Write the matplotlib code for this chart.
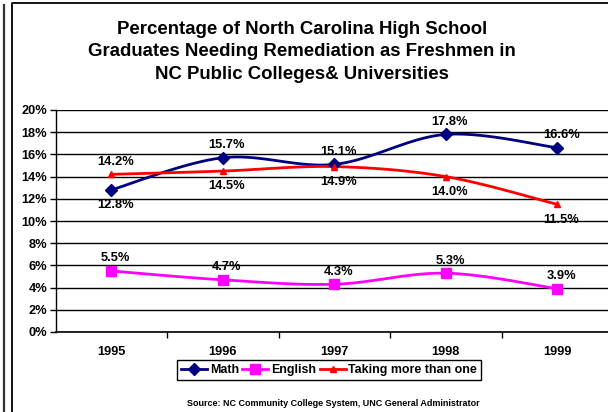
import numpy as np
import matplotlib
matplotlib.use("Agg")
import matplotlib.pyplot as plt
from matplotlib.lines import Line2D

years = ["1995", "1996", "1997", "1998", "1999"]
math_vals = [12.8, 15.7, 15.1, 17.8, 16.6]
english_vals = [5.5, 4.7, 4.3, 5.3, 3.9]
multi_vals = [14.2, 14.5, 14.9, 14.0, 11.5]
yticks = [0, 2, 4, 6, 8, 10, 12, 14, 16, 18, 20]

plt.rcParams['font.family'] = ['Liberation Sans', 'DejaVu Sans']
plt.rcParams['font.weight'] = 'bold'

W, H = 608, 412
fig = plt.figure(figsize=(W / 100, H / 100), dpi=100)
ax = fig.add_axes([55.5 / W, (H - 332) / H, 557.5 / W, 222 / H])


def smooth(x, y, n=30):
    # Bezier smoothing (Catmull-Rom style, as spreadsheet "smoothed line")
    x = np.asarray(x, float)
    y = np.asarray(y, float)
    px = np.concatenate([[x[0]], x, [x[-1]]])
    py = np.concatenate([[y[0]], y, [y[-1]]])
    xs, ys = [], []
    t = np.linspace(0, 1, n)
    for i in range(1, len(px) - 2):
        p0 = np.array([px[i], py[i]])
        p3 = np.array([px[i + 1], py[i + 1]])
        p1 = p0 + (np.array([px[i + 1], py[i + 1]]) - np.array([px[i - 1], py[i - 1]])) / 6
        p2 = p3 - (np.array([px[i + 2], py[i + 2]]) - np.array([px[i], py[i]])) / 6
        b = ((1 - t) ** 3)[:, None] * p0 + (3 * (1 - t) ** 2 * t)[:, None] * p1 \
            + (3 * (1 - t) * t ** 2)[:, None] * p2 + (t ** 3)[:, None] * p3
        xs.extend(b[:, 0])
        ys.extend(b[:, 1])
    return np.array(xs), np.array(ys)


xi = np.arange(len(years))
series = [
    ("Math", math_vals, "#000080", "D", 6),
    ("English", english_vals, "#FF00FF", "s", 7),
    ("Taking more than one", multi_vals, "#FF0000", "^", 4.5),
]
handles = []
for name, vals, col, mk, ms in series:
    sx, sy = smooth(xi, vals)
    ax.plot(sx, sy, color=col, lw=2, zorder=3, solid_capstyle='round')
    ax.plot(xi, vals, linestyle='none', marker=mk, ms=ms, color=col, zorder=4)
    handles.append(Line2D([0], [0], color=col, lw=2, marker=mk, ms=ms))

# data labels
math_pos = [-1, 1, 1, 1, 1]
multi_pos = [1, -1, -1, -1, -1]
eng_pos = [1, 1, 1, 1, 1]
for vals, pos in [(math_vals, math_pos), (multi_vals, multi_pos), (english_vals, eng_pos)]:
    for i, (v, p) in enumerate(zip(vals, pos)):
        off = 9 if p > 0 else -11
        ax.annotate(f"{v:.1f}%", (i, v), xytext=(3, off), textcoords='offset points',
                    ha='center', va='center', fontsize=9.3, fontweight='bold', zorder=5)

ax.set_xlim(-0.5, 4.5)
ax.set_ylim(0, 20)
ax.set_yticks(yticks)
ax.set_yticklabels([f"{t}%" for t in yticks], fontsize=9.2, fontweight='bold')
ax.set_xticks(xi)
ax.set_xticklabels(years, fontsize=9.2, fontweight='bold')
ax.set_xticks(np.arange(0.5, 4.5, 1), minor=True)
ax.tick_params(axis='x', which='major', length=0, pad=10)
ax.tick_params(axis='x', which='minor', length=4, width=1, direction='out')
ax.tick_params(axis='y', length=4, width=1, direction='out', pad=2)
ax.grid(axis='y', color='black', lw=1)
ax.set_axisbelow(True)
for s in ['top', 'right']:
    ax.spines[s].set_visible(False)
ax.spines['left'].set_linewidth(1)
ax.spines['bottom'].set_linewidth(1.2)

fig.text(302 / W, 1 - 52 / H,
         "Percentage of North Carolina High School\nGraduates Needing Remediation as Freshmen in\nNC Public Colleges& Universities",
         ha='center', va='center', fontsize=13.4, fontweight='bold', linespacing=1.4)

leg = fig.legend(handles, [s[0] for s in series], loc='center',
                 bbox_to_anchor=(329 / W, 1 - 370 / H), ncol=3, frameon=True,
                 fancybox=False, edgecolor='black', framealpha=1,
                 prop={'size': 8.9, 'weight': 'bold'}, handlelength=2.1,
                 handletextpad=0.2, columnspacing=0.3, borderpad=0.3,
                 borderaxespad=0)
leg.get_frame().set_linewidth(1)

fig.text(333 / W, 1 - 404 / H,
         "Source: NC Community College System, UNC General Administrator",
         ha='center', va='center', fontsize=6.5, fontweight='bold')

# outer frames
fig.add_artist(Line2D([4 / W, 4 / W], [0, 1 - 5 / H], color='#333333', lw=1.6,
                      transform=fig.transFigure))
fig.add_artist(Line2D([12 / W, 12 / W, 1], [0, 1 - 2.5 / H, 1 - 2.5 / H], color='black', lw=1.3,
                      transform=fig.transFigure))

fig.savefig("out.png", dpi=100)
